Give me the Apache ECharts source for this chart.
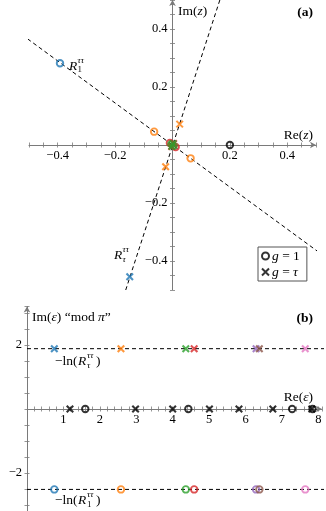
<!DOCTYPE html>
<html><head><meta charset="utf-8">
<script src="https://cdn.jsdelivr.net/npm/echarts@6/dist/echarts.min.js"></script>
<style>html,body{margin:0;padding:0;background:#fff}#c{width:326px;height:511px}</style>
</head><body><div id="c"></div>
<script>
// ---------- Panel (a): points in the complex z-plane ----------
const aCircleRe  = [-0.392, -0.064,  0.063, 0.200, -0.009,  0.011, -0.004,  0.004];
const aCircleIm  = [ 0.282,  0.046, -0.046, 0.000,  0.007, -0.007,  0.003, -0.003];
const aCircleKey = ['blue', 'orange', 'orange', 'black', 'red', 'red', 'green', 'green'];
const aCrossRe   = [-0.149,  0.025, -0.024,  0.004, -0.003,  0.002, -0.002];
const aCrossIm   = [-0.454,  0.072, -0.075,  0.005, -0.005,  0.004, -0.004];
const aCrossKey  = ['blue', 'orange', 'orange', 'red', 'red', 'green', 'green'];
// dashed rays through the origin (end points)
const aRay1 = [[-0.505, 0.366], [0.535, -0.388]];
const aRay2 = [[0.165, 0.500], [-0.163, -0.500]];
const aTickLabels = [-0.4, -0.2, 0.2, 0.4];

// ---------- Panel (b): points in the epsilon plane ----------
const bRe  = [0.75, 2.58, 4.36, 4.59, 6.29, 6.38, 7.64];
const bKey = ['blue', 'orange', 'green', 'red', 'purple', 'brown', 'pink'];
const bLevelTau = 1.885;   // -ln(R_tau^{tau tau}) level  (g = tau, crosses)
const bLevelOne = -2.513;  // -ln(R_1^{tau tau}) level    (g = 1, circles)
const bAxisCrossRe  = [1.18, 2.98, 4.00, 5.01, 5.82, 6.75, 7.82];
const bAxisCircleRe = [1.60, 4.43, 7.28, 7.84];
const bLineX = [0, 8.2];
const bXTickLabels = [1, 2, 3, 4, 5, 6, 7, 8];
const bYTickLabels = [-2, 2];

// ---------- styles / layout ----------
const PAL = {blue:'#1f77b4', orange:'#ff7f0e', green:'#2ca02c', red:'#d62728',
             purple:'#9467bd', brown:'#8c564b', pink:'#e377c2', black:'#000000'};
const SERIF = "'Liberation Serif','DejaVu Serif',serif";
const AXC = '#7a7a7a';
const CROSS = 'path://M0,0L10,10M0,10L10,0';
const CLEAR = 'rgba(0,0,0,0)';
const FS = 13.5, TFS = 12.5;

const GA = {left:29, top:0, width:287, height:290, outerBoundsMode:'none', containLabel:false};
const GB = {left:27, top:306.6, width:8.1*36.42, height:6.7*32, outerBoundsMode:'none', containLabel:false};
// axis offsets so the axes cross at the origin
const A_XOFF = -145, A_YOFF = -143.5;
const B_XOFF = -(6.7*32 - 3.2*32), B_YOFF = 0;

function near(v, t){ return Math.abs(v - t) < 1e-6; }
function fmtA(v){
  for (const t of aTickLabels) if (near(v,t)) return (t<0?'\u2212':'') + Math.abs(t).toFixed(1);
  return '';
}
function fmtBX(v){ for (const t of bXTickLabels) if (near(v,t)) return String(t); return ''; }
function fmtBY(v){ for (const t of bYTickLabels) if (near(v,t)) return (t<0?'\u2212':'') + Math.abs(t); return ''; }

function ptsXY(res, ims, keys){ return res.map((r,i)=>({value:[r, ims[i]], itemStyle:{borderColor:PAL[keys[i]]}})); }
function ptsLevel(res, level, keys){ return res.map((r,i)=>({value:[r, level], itemStyle:{borderColor:PAL[keys[i]]}})); }
function ptsBlack(res){ return res.map(r=>({value:[r, 0], itemStyle:{borderColor:PAL.black}})); }

function axisX(grid, min, max, interval, fmt, offset, inner){
  return {gridIndex:grid, type:'value', min, max, interval, position:'bottom', offset,
    axisLine:{show:!inner, onZero:false, symbol:['none','arrow'], symbolSize:[5,6],
      lineStyle:{color:AXC, width:1}},
    axisTick:{show:true, inside:!!inner, length:2.5, lineStyle:{color:AXC, width:0.8}},
    axisLabel:inner ? {show:false} : {formatter:fmt, fontFamily:SERIF, fontSize:TFS, color:'#000', margin:4, hideOverlap:false},
    splitLine:{show:false}};
}
function axisY(grid, min, max, interval, fmt, offset, inner){
  return {gridIndex:grid, type:'value', min, max, interval, position:'left', offset,
    axisLine:{show:!inner, onZero:false, symbol:['none','arrow'], symbolSize:[5,6],
      lineStyle:{color:AXC, width:1}},
    axisTick:{show:true, inside:!!inner, length:2.5, lineStyle:{color:AXC, width:0.8}},
    axisLabel:inner ? {show:false} : {formatter:fmt, fontFamily:SERIF, fontSize:TFS, color:'#000', margin:5, hideOverlap:false},
    splitLine:{show:false}};
}

const circleBase = {type:'scatter', symbol:'circle', symbolSize:6.5,
  itemStyle:{color:CLEAR, borderWidth:1.9}, z:5, emphasis:{disabled:true}};
const crossBase = {type:'scatter', symbol:CROSS, symbolSize:6.5,
  itemStyle:{color:CLEAR, borderWidth:2.1}, z:6, emphasis:{disabled:true}};
const dashBase = {type:'line', showSymbol:false, symbol:'none', clip:false, silent:true, z:3,
  lineStyle:{color:'#000', width:1, type:[4,3]}};

function T(x, y, text, o){
  return {type:'text', x, y, silent:true, z:50,
    style:Object.assign({text, fill:'#000', fontFamily:SERIF, fontSize:FS, align:'left', verticalAlign:'middle'}, o||{})};
}
const IT = (sz)=>({fontStyle:'italic', fontFamily:SERIF, fontSize:sz, fill:'#000'});

const graphics = [
  T(178, 11, 'Im({i|z})', {rich:{i:IT(FS)}}),
  T(313, 13, '(a)', {align:'right', fontWeight:'bold'}),
  T(313, 135, 'Re({i|z})', {align:'right', rich:{i:IT(FS)}}),
  // R_1^{tau tau}
  T(69, 66, 'R', {fontStyle:'italic'}),
  T(77.5, 61, '\u03C4\u03C4', {fontStyle:'italic', fontSize:9}),
  T(77.5, 70, '1', {fontSize:9}),
  // R_tau^{tau tau}
  T(114, 255, 'R', {fontStyle:'italic'}),
  T(122.5, 250, '\u03C4\u03C4', {fontStyle:'italic', fontSize:9}),
  T(122.5, 259.5, '\u03C4', {fontStyle:'italic', fontSize:9}),
  // panel (b)
  T(32, 317, 'Im({i|\u03B5}) \u201Cmod {i|\u03C0}\u201D', {rich:{i:IT(FS)}}),
  T(313, 319, '(b)', {align:'right', fontWeight:'bold'}),
  T(313, 397, 'Re({i|\u03B5})', {align:'right', rich:{i:IT(FS)}}),
  // -ln(R_tau^{tau tau})
  T(55, 361, '\u2212ln(', {}),
  T(78, 361, 'R', {fontStyle:'italic'}),
  T(87, 356, '\u03C4\u03C4', {fontStyle:'italic', fontSize:9}),
  T(87, 365.5, '\u03C4', {fontStyle:'italic', fontSize:9}),
  T(96, 361, ')', {}),
  // -ln(R_1^{tau tau})
  T(55, 500, '\u2212ln(', {}),
  T(78, 500, 'R', {fontStyle:'italic'}),
  T(87, 495, '\u03C4\u03C4', {fontStyle:'italic', fontSize:9}),
  T(87, 504.5, '1', {fontSize:9}),
  T(96, 500, ')', {})
];

const option = {
  animation:false,
  backgroundColor:'#fff',
  grid:[GA, GB],
  xAxis:[
    axisX(0, -0.5, 0.5, 0.05, fmtA, A_XOFF, false),
    axisX(0, -0.5, 0.5, 0.05, fmtA, A_XOFF, true),
    axisX(1, 0, 8.1, 0.2, fmtBX, B_XOFF, false),
    axisX(1, 0, 8.1, 0.2, fmtBX, B_XOFF, true)
  ],
  yAxis:[
    axisY(0, -0.5, 0.5, 0.05, fmtA, A_YOFF, false),
    axisY(0, -0.5, 0.5, 0.05, fmtA, A_YOFF, true),
    axisY(1, -3.5, 3.2, 0.5, fmtBY, B_YOFF, false),
    axisY(1, -3.5, 3.2, 0.5, fmtBY, B_YOFF, true)
  ],
  legend:{
    data:['g1','gt'], left:258, top:247, orient:'vertical',
    backgroundColor:'#fff', borderColor:'#555', borderWidth:1, padding:[2,7,2,3],
    itemWidth:7, itemHeight:7, itemGap:2, selectedMode:false,
    textStyle:{fontFamily:SERIF, fontSize:FS, color:'#000', padding:[0,0,0,-2],
      rich:{i:IT(FS)}},
    formatter:(n)=> n==='g1' ? '{i|g} = 1' : '{i|g} = {i|\u03C4}'
  },
  graphic:graphics,
  series:[
    // panel (a)
    Object.assign({}, dashBase, {xAxisIndex:0, yAxisIndex:0, data:aRay1}),
    Object.assign({}, dashBase, {xAxisIndex:0, yAxisIndex:0, data:aRay2}),
    Object.assign({}, circleBase, {name:'a-circles', xAxisIndex:0, yAxisIndex:0, data:ptsXY(aCircleRe, aCircleIm, aCircleKey)}),
    Object.assign({}, crossBase, {name:'a-crosses', xAxisIndex:0, yAxisIndex:0, data:ptsXY(aCrossRe, aCrossIm, aCrossKey)}),
    // legend-only series
    Object.assign({}, circleBase, {name:'g1', xAxisIndex:0, yAxisIndex:0, data:[],
      itemStyle:{color:CLEAR, borderColor:'#000', borderWidth:1.9}}),
    Object.assign({}, crossBase, {name:'gt', xAxisIndex:0, yAxisIndex:0, data:[],
      itemStyle:{color:CLEAR, borderColor:'#000', borderWidth:2.1}}),
    // panel (b)
    Object.assign({}, dashBase, {xAxisIndex:2, yAxisIndex:2, data:bLineX.map(x=>[x, bLevelTau])}),
    Object.assign({}, dashBase, {xAxisIndex:2, yAxisIndex:2, data:bLineX.map(x=>[x, bLevelOne])}),
    Object.assign({}, crossBase, {name:'b-tau', xAxisIndex:2, yAxisIndex:2, data:ptsLevel(bRe, bLevelTau, bKey)}),
    Object.assign({}, circleBase, {name:'b-one', xAxisIndex:2, yAxisIndex:2, data:ptsLevel(bRe, bLevelOne, bKey)}),
    Object.assign({}, circleBase, {name:'b-axis-c', xAxisIndex:2, yAxisIndex:2, data:ptsBlack(bAxisCircleRe)}),
    Object.assign({}, crossBase, {name:'b-axis-x', xAxisIndex:2, yAxisIndex:2, data:ptsBlack(bAxisCrossRe)})
  ]
};
const chart = echarts.init(document.getElementById('c'), null, {renderer:'canvas'});
chart.setOption(option);
</script></body></html>
